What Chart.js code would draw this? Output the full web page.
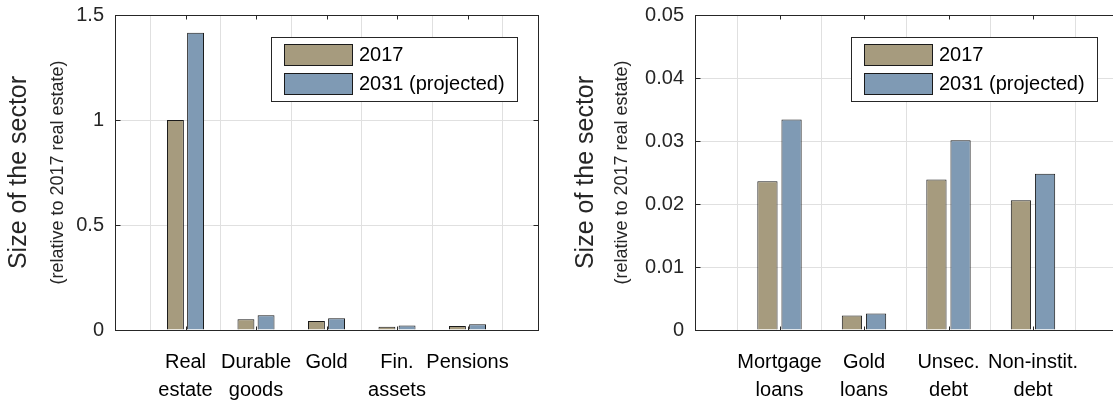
<!DOCTYPE html>
<html lang="en">
<head>
<meta charset="UTF-8">
<title>Sector sizes, 2017 vs 2031</title>
<script src="https://cdn.jsdelivr.net/npm/chart.js@4.4.1/dist/chart.umd.min.js"></script>
<style>
  html, body { margin: 0; padding: 0; background: #fff; overflow: hidden; }
  #wrap { position: relative; width: 1113px; height: 403px; overflow: hidden; }
  #assets { position: absolute; left: 0; top: 0; }
  #debts { position: absolute; left: 560px; top: 0; }
</style>
</head>
<body>
<div id="wrap">
  <canvas id="assets" width="556" height="403"></canvas>
  <canvas id="debts" width="560" height="403"></canvas>
</div>

<script>
// asset side
const assetLabels = [['Real', 'estate'], ['Durable', 'goods'], ['Gold'], ['Fin.', 'assets'], ['Pensions']];
const assets2017 = [1.0, 0.051, 0.043, 0.016, 0.019];
const assets2031 = [1.415, 0.070, 0.056, 0.022, 0.027];
const assetTicks = [0, 0.5, 1, 1.5];

// liability side
const debtLabels = [['Mortgage', 'loans'], ['Gold', 'loans'], ['Unsec.', 'debt'], ['Non-instit.', 'debt']];
const debts2017 = [0.0236, 0.0023, 0.0239, 0.0206];
const debts2031 = [0.0334, 0.0026, 0.0301, 0.0248];
const debtTicks = [0, 0.01, 0.02, 0.03, 0.04, 0.05];

const seriesNames = ['2017', '2031 (projected)'];
const seriesColors = ['#a69b7e', '#7f9ab4'];

const FONT = "'Liberation Sans', Arial, Helvetica, sans-serif";
const AXIS = '#262626';
const GRID = '#e0e0e0';

// y label: big line plus a small note under it
const yTitlePlugin = {
    id: 'yTitle',
    afterDraw(chart, args, o) {
        const ctx = chart.ctx;
        const cy = (chart.chartArea.top + chart.chartArea.bottom) / 2;
        [[o.x1, '25px', 'Size of the sector'], [o.x2, '18px', '(relative to 2017 real estate)']]
            .forEach(([x, size, text]) => {
                ctx.save();
                ctx.fillStyle = AXIS;
                ctx.textAlign = 'center';
                ctx.textBaseline = 'middle';
                ctx.translate(x, cy);
                ctx.rotate(-Math.PI / 2);
                ctx.font = size + ' ' + FONT;
                ctx.fillText(text, 0, 0);
                ctx.restore();
            });
    }
};

// closed box around the plot area, with short inward tick marks
const boxPlugin = {
    id: 'box',
    afterDatasetsDraw(chart) {
        const a = chart.chartArea, ctx = chart.ctx;
        const L = Math.round(a.left) + 0.5, T = Math.round(a.top) + 0.5;
        const R = Math.round(a.right) + 0.5, B = Math.round(a.bottom) + 0.5;
        ctx.save();
        ctx.strokeStyle = AXIS;
        ctx.lineWidth = 1;
        ctx.beginPath();
        chart.scales.y.ticks.forEach(t => {
            const py = Math.round(chart.scales.y.getPixelForValue(t.value)) + 0.5;
            ctx.moveTo(L, py); ctx.lineTo(L + 5, py);
            ctx.moveTo(R, py); ctx.lineTo(R - 5, py);
        });
        chart.scales.x.ticks.forEach((t, i) => {
            const px = Math.round(chart.scales.x.getPixelForTick(i)) + 0.5;
            ctx.moveTo(px, B); ctx.lineTo(px, B - 4);
            ctx.moveTo(px, T); ctx.lineTo(px, T + 4);
        });
        ctx.stroke();
        ctx.strokeRect(L, T, R - L, B - T);
        ctx.restore();
    }
};

// legend box in the upper right of the plot
const legendBoxPlugin = {
    id: 'legendBox',
    afterDraw(chart) {
        const a = chart.chartArea, ctx = chart.ctx;
        const w = 246, h = 64;
        const x = Math.round(a.right - 21 - w), y = Math.round(a.top + 22);
        ctx.save();
        ctx.fillStyle = '#fff';
        ctx.fillRect(x, y, w, h);
        ctx.strokeStyle = AXIS;
        ctx.lineWidth = 1;
        ctx.strokeRect(x + 0.5, y + 0.5, w, h);
        ctx.font = '20px ' + FONT;
        ctx.textBaseline = 'middle';
        chart.data.datasets.forEach((ds, i) => {
            const sy = y + 7 + i * 29;
            ctx.fillStyle = ds.backgroundColor;
            ctx.fillRect(x + 13, sy, 68, 21);
            ctx.strokeStyle = '#1a1a1a';
            ctx.strokeRect(x + 13.5, sy + 0.5, 68, 21);
            ctx.fillStyle = '#000';
            ctx.fillText(ds.label, x + 88, sy + 11);
        });
        ctx.restore();
    }
};

function makeChart(id, cats, first, second, ticks, yAxisWidth, padRight, titleX) {
    // blank slot on each side so the bars sit one unit in from the box
    const labels = [''].concat(cats, ['']);
    const pad = arr => [null].concat(arr, [null]);
    const yMax = ticks[ticks.length - 1];

    return new Chart(document.getElementById(id), {
        type: 'bar',
        data: {
            labels: labels,
            datasets: [first, second].map((vals, i) => ({
                label: seriesNames[i],
                data: pad(vals),
                backgroundColor: seriesColors[i],
                borderColor: '#1a1a1a',
                borderWidth: 1,
                borderSkipped: 'bottom',
                categoryPercentage: 0.571,
                barPercentage: 0.84
            }))
        },
        options: {
            responsive: false,
            animation: false,
            layout: { padding: { top: 15, right: padRight, left: 0, bottom: 0 } },
            plugins: {
                legend: { display: false },
                tooltip: { enabled: false },
                yTitle: titleX
            },
            scales: {
                x: {
                    type: 'category',
                    offset: false,
                    grid: { color: GRID, drawTicks: false },
                    border: { display: true, color: AXIS },
                    ticks: {
                        autoSkip: false,
                        maxRotation: 0,
                        padding: 18,
                        color: '#000',
                        font: { family: FONT, size: 20, lineHeight: 1.4 }
                    },
                    afterFit: s => { s.height = 73; s.paddingLeft = 0; s.paddingRight = 0; }
                },
                y: {
                    min: 0,
                    max: yMax,
                    grid: { color: GRID, drawTicks: false },
                    border: { display: true, color: AXIS },
                    afterBuildTicks: s => { s.ticks = ticks.map(v => ({ value: v })); },
                    ticks: {
                        padding: 11,
                        color: AXIS,
                        font: { family: FONT, size: 20 },
                        callback: v => String(v)
                    },
                    afterFit: s => { s.width = yAxisWidth; s.paddingTop = 0; s.paddingBottom = 0; }
                }
            }
        },
        plugins: [yTitlePlugin, boxPlugin, legendBoxPlugin]
    });
}

makeChart('assets', assetLabels, assets2017, assets2031, assetTicks, 115, 18, { x1: 19, x2: 58 });
makeChart('debts', debtLabels, debts2017, debts2031, debtTicks, 135, 2.5, { x1: 26, x2: 62 });
</script>
</body>
</html>
